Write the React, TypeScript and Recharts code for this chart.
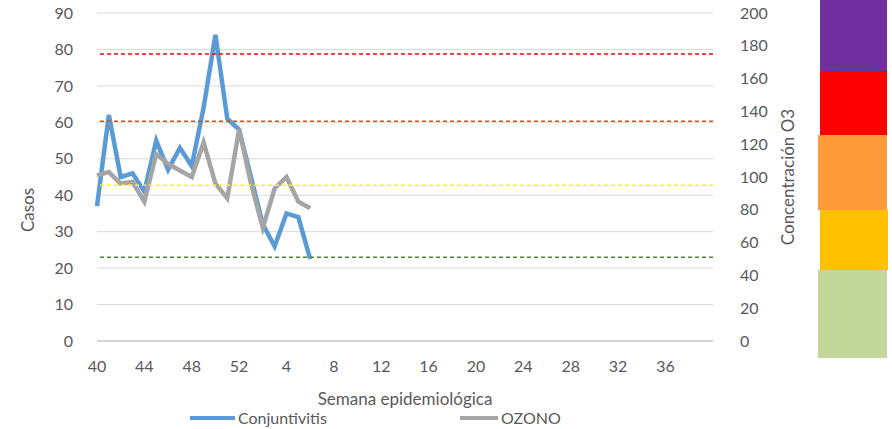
import { LineChart, Line, XAxis, YAxis, CartesianGrid, ReferenceLine } from "recharts";

// Semanas epidemiológicas (40 a 52 y 1 a 39)
const semanas = [
  "40", "41", "42", "43", "44", "45", "46", "47", "48", "49", "50", "51", "52",
  "1", "2", "3", "4", "5", "6", "7", "8", "9", "10", "11", "12", "13", "14",
  "15", "16", "17", "18", "19", "20", "21", "22", "23", "24", "25", "26", "27",
  "28", "29", "30", "31", "32", "33", "34", "35", "36", "37", "38", "39",
];

// Casos de conjuntivitis por semana
const conjuntivitis = [37, 62, 45, 46, 41, 55, 47, 53, 48, 64, 84, 61, 58, 45, 32, 26, 35, 34, 22.5];

// Concentración de ozono por semana
const ozono = [101, 103, 96, 97, 85, 114, 108, 104, 100, 121, 96, 87, 129, 96, 69, 93, 100, 85, 81];

// Umbrales de O3 (eje derecho)
const umbralesO3 = [175, 134, 95, 51];
const coloresUmbral = ["#FF0000", "#C55A11", "#FFFF00", "#548235"];

const ticksCasos = [0, 10, 20, 30, 40, 50, 60, 70, 80, 90];
const ticksO3 = [0, 20, 40, 60, 80, 100, 120, 140, 160, 180, 200];

// Bandas de color a la derecha (decoración)
const bandas = [
  { color: "#7030A0", top: 0, height: 71, left: 820, width: 67 },
  { color: "#FF0000", top: 71, height: 64, left: 820, width: 67 },
  { color: "#FF9A3A", top: 135, height: 75, left: 818, width: 69 },
  { color: "#FFC000", top: 210, height: 60, left: 820, width: 68 },
  { color: "#C4D79B", top: 270, height: 88, left: 818, width: 69 },
];

const data = semanas.map((s, i) => ({
  semana: s,
  conjuntivitis: conjuntivitis[i],
  ozono: ozono[i],
}));

const tickStyle = { fill: "#595959", fontSize: 16 };

export default function App() {
  return (
    <div style={{ position: "absolute", left: 0, top: 0, width: 892, height: 429, fontFamily: "Lato", background: "#fff" }}>
      <LineChart width={892} height={429} data={data} margin={{ top: 13, right: 99, bottom: 58, left: 37 }}>
        <CartesianGrid yAxisId="left" vertical={false} stroke="#D9D9D9" />
        <XAxis
          dataKey="semana"
          interval={3}
          padding={{ left: 0, right: 12 }}
          height={30}
          tickLine={false}
          axisLine={{ stroke: "#BFBFBF" }}
          tick={tickStyle}
          tickMargin={14}
          label={{ value: "Semana epidemiológica", position: "bottom", offset: 22, fill: "#595959", fontSize: 17 }}
        />
        <YAxis
          yAxisId="left"
          width={60}
          domain={[0, 90]}
          ticks={ticksCasos}
          axisLine={false}
          tickLine={false}
          tick={tickStyle}
          tickMargin={18}
          label={{ value: "Casos", angle: -90, position: "insideLeft", dx: -14, dy: 33, fill: "#595959", fontSize: 17, style: { textAnchor: "middle" } }}
        />
        <YAxis
          yAxisId="right"
          orientation="right"
          width={80}
          domain={[0, 200]}
          ticks={ticksO3}
          axisLine={false}
          tickLine={false}
          tick={tickStyle}
          tickMargin={21}
          label={{ value: "Concentración O3", angle: -90, position: "insideRight", dx: 0, dy: 0, fill: "#595959", fontSize: 17, style: { textAnchor: "middle" } }}
        />
        <Line
          yAxisId="left"
          type="linear"
          dataKey="conjuntivitis"
          stroke="#5B9BD5"
          strokeWidth={4.5}
          dot={false}
          isAnimationActive={false}
        />
        <Line
          yAxisId="right"
          type="linear"
          dataKey="ozono"
          stroke="#A5A5A5"
          strokeWidth={4.5}
          dot={false}
          isAnimationActive={false}
        />
        {umbralesO3.map((u, i) => (
          <ReferenceLine
            key={u}
            yAxisId="right"
            y={u}
            stroke={coloresUmbral[i]}
            strokeWidth={1.5}
            strokeDasharray="4 3"
          />
        ))}
      </LineChart>
      {bandas.map((b) => (
        <div
          key={b.color}
          style={{ position: "absolute", left: b.left, top: b.top, width: b.width, height: b.height, background: b.color }}
        />
      ))}
      <div style={{ position: "absolute", left: 190, top: 416, width: 45, height: 4, background: "#5B9BD5" }} />
      <div style={{ position: "absolute", left: 238, top: 408, fontSize: 16, color: "#595959", lineHeight: "20px" }}>Conjuntivitis</div>
      <div style={{ position: "absolute", left: 460, top: 416, width: 38, height: 4, background: "#A5A5A5" }} />
      <div style={{ position: "absolute", left: 501, top: 408, fontSize: 16, color: "#595959", lineHeight: "20px" }}>OZONO</div>
    </div>
  );
}
